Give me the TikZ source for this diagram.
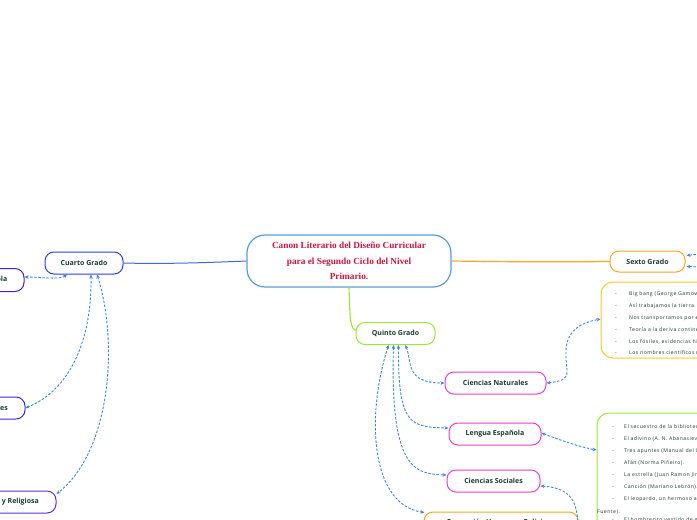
\documentclass[tikz,border=0pt]{standalone}
\usepackage{fontspec}
\setmainfont{Open Sans}
\newfontfamily\titlefont{Liberation Serif}
\newfontfamily\notefont[LetterSpace=9]{Open Sans}
\usetikzlibrary{arrows.meta}
\definecolor{txt}{HTML}{1C3A32}
\definecolor{titlered}{HTML}{C8143C}
\definecolor{cblue}{HTML}{5B9BD5}
\definecolor{bblue}{HTML}{2D3CEB}
\definecolor{lblue}{HTML}{3F66F0}
\definecolor{indigo}{HTML}{3A28D8}
\definecolor{purp}{HTML}{6030E0}
\definecolor{orng}{HTML}{F5A623}
\definecolor{yell}{HTML}{FFC820}
\definecolor{lime}{HTML}{9BE535}
\definecolor{mag}{HTML}{F03CD2}
\definecolor{dash}{HTML}{3A85D8}
\tikzset{
  topic/.style={draw, line width=1pt, rounded corners=9pt, minimum height=22pt, inner sep=0pt,
    font=\fontsize{7}{8}\selectfont\bfseries, text=txt},
  rel/.style={draw=dash, line width=0.9pt, dash pattern=on 2.5pt off 1.6pt},
  tip/.style={-{Stealth[length=4pt,width=3.5pt]}},
  tips/.style={{Stealth[length=4pt,width=3.5pt]}-{Stealth[length=4pt,width=3.5pt]}},
  small/.style={font=\notefont\fontsize{5.15}{6}\selectfont, text=txt, inner sep=0pt, anchor=base west},
}
\begin{document}
\begin{tikzpicture}[x=1pt,y=-1pt]
\useasboundingbox (0,0) rectangle (697,520);
\clip (0,0) rectangle (697,520);

% central
\node[draw=cblue, line width=1.2pt, rounded corners=18pt, minimum width=204pt, minimum height=52pt,
  align=center, text=titlered, font=\titlefont\fontsize{9.3}{15.5}\selectfont\bfseries] (central) at (349,261)
  {Canon Literario del Diseño Curricular\\para el Segundo Ciclo del Nivel\\Primario.};

% grades
\node[topic, draw=bblue, minimum width=78pt] (cuarto) at (84,263) {Cuarto Grado};
\node[topic, draw=orng, minimum width=75pt, minimum height=21pt] (sexto) at (647.5,261.5) {Sexto Grado};
\node[topic, draw=lime, minimum width=79pt] (quinto) at (395.5,333.5) {Quinto Grado};

% left subtopics
\node[topic, draw=indigo, minimum width=92pt, minimum height=23pt] (lel) at (-22,280) {Lengua Española};
\node[topic, draw=indigo, minimum width=93pt] (csl) at (-21.5,408) {Ciencias Sociales};
\node[topic, draw=purp, minimum width=142pt] (fhl) at (-15,502) {Formación Humana y Religiosa};

% right subtopics
\node[topic, draw=mag, minimum width=101pt] (cn) at (495.5,383) {Ciencias Naturales};
\node[topic, draw=mag, minimum width=92pt] (le) at (495,434) {Lengua Española};
\node[topic, draw=mag, minimum width=93pt] (cs) at (493.5,481) {Ciencias Sociales};
\node[topic, draw=orng, minimum width=154pt] (fh) at (501,523) {Formación Humana y Religiosa};

% note boxes
\node[draw=yell, line width=1pt, rounded corners=12pt, minimum width=200pt, minimum height=76pt, inner sep=0pt] (ybox) at (701,320) {};
\node[draw=lime, line width=1pt, rounded corners=12pt, minimum width=200pt, minimum height=200pt, inner sep=0pt] (gbox) at (697,513) {};

\foreach \t [count=\i] in {{Big bang (George Gamow).},{Así trabajamos la tierra.},{Nos transportamos por el espacio.},{Teoría a la deriva continental.},{Los fósiles, evidencias históricas.},{Los nombres científicos (}}{
  \node[small] (yd\i) at (615,{284+11.8*\i}) {-};
  \node[small] (yt\i) at (629,{284+11.8*\i}) {\t};
}
\foreach \t [count=\i] in {{El secuestro de la biblioteca.},{El adivino (A. N. Abanasiev).},{Tres apuntes (Manual del Cuento).},{Afán (Norma Piñeiro).},{La estrella (Juan Ramon Jiménez).},{Canción (Mariano Lebrón).},{El leopardo, un hermoso animal (}}{
  \node[small] (gd\i) at (612,{416+12.1*\i}) {-};
  \node[small] (gt\i) at (624,{416+12.1*\i}) {\t};
}
\node[small] (gf) at (597,513) {Fuente).};
\node[small] (gd9) at (612,521) {-};
\node[small] (gt9) at (624,521) {El hombrecito vestido de gris.};

% main branches
\draw[lblue, line width=1pt] (central.west) .. controls (200,263) and (160,264) .. (cuarto.east);
\draw[orng, line width=1.2pt] (central.east) .. controls (520,262) and (560,262) .. (sexto.west);
\draw[lime, line width=1.1pt] (central.south) .. controls (350,310) and (349,328) .. ([yshift=3pt]quinto.west);

% Cuarto relations
\draw[rel, tips] ([xshift=-17pt]cuarto.south) .. controls (60,280) and (40,277) .. ([yshift=3pt]lel.east);
\draw[rel, tips] ([xshift=7pt]cuarto.south) .. controls (92,340) and (70,390) .. (csl.east);
\draw[rel, tips] ([xshift=13pt]cuarto.south) .. controls (118,340) and (112,450) .. ([yshift=8pt]fhl.east);

% Quinto relations
\draw[rel, tips] ([xshift=10pt]quinto.south) .. controls (412,362) and (405,383) .. (cn.west);
\draw[rel, tips] ([xshift=3pt]quinto.south) .. controls (398,425) and (410,427) .. ([yshift=6pt]le.west);
\draw[rel, tips] ([xshift=-2pt]quinto.south) .. controls (390,470) and (415,474) .. ([yshift=6pt]cs.west);
\draw[rel, tips] ([xshift=-7pt]quinto.south) .. controls (365,420) and (372,505) .. ([xshift=1pt,yshift=-1pt]fh.north west);

% cross relations
\draw[rel, tips] (cn.east) .. controls (575,380) and (565,372) .. (566,352) .. controls (566,328) and (585,322) .. ([yshift=1pt]ybox.west);
\draw[rel, tips] ([yshift=1pt]le.east) .. controls (560,440) and (580,447) .. ([yshift=63pt]gbox.west);
\coordinate (csend) at (578,525);
\draw[rel, tip] (csend) .. controls (577,500) and (570,488) .. ([yshift=-5pt]cs.east);
\coordinate (s1) at (700,254);
\coordinate (s2) at (700,267);
\draw[rel, tip] (s1) -- ([yshift=6pt,xshift=1pt]sexto.east);
\draw[rel, tip] (s2) -- ([yshift=-5pt,xshift=1pt]sexto.east);
\end{tikzpicture}
\end{document}
